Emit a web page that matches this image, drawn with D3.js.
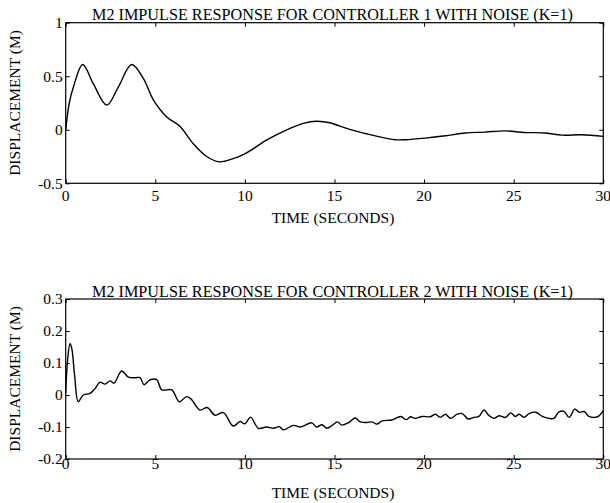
<!DOCTYPE html>
<html>
<head>
<meta charset="utf-8">
<script src="https://cdn.jsdelivr.net/npm/d3@7"></script>
<style>
  body { margin: 0; background: #fff; }
  text { font-family: "Liberation Serif", "Times New Roman", serif; fill: #000; }
</style>
</head>
<body>
<script>
// time axis shared by both panels
const xTicks = [0, 5, 10, 15, 20, 25, 30];

// controller 1 response (smooth)
const t1 = [0, 0.2, 0.43, 0.95, 1.54, 2.29, 2.94, 3.68, 4.33, 4.89, 5.64, 6.38, 7.12, 7.87, 8.57, 9.35, 10.1, 11.2, 12.33, 13.26, 14.0, 14.75, 15.3, 16.15, 17.1, 18.4, 18.95, 20.06, 21.2, 22.3, 23.4, 24.5, 25.6, 26.7, 27.7, 28.8, 30];
const y1 = [0, 0.25, 0.40, 0.61, 0.43, 0.23, 0.40, 0.61, 0.48, 0.28, 0.12, 0.03, -0.13, -0.25, -0.30, -0.27, -0.215, -0.097, 0, 0.06, 0.08, 0.065, 0.034, -0.01, -0.05, -0.093, -0.093, -0.078, -0.056, -0.03, -0.022, -0.01, -0.025, -0.03, -0.05, -0.047, -0.062];
const yTicks1 = [-0.5, 0, 0.5, 1];
const yLabels1 = ["-0.5", "0", "0.5", "1"];

// controller 2 response (noisy)
const t2 = [0, 0.11, 0.24, 0.34, 0.5, 0.7, 0.98, 1.36, 1.64, 1.91, 2.2, 2.47, 2.7, 3.12, 3.5, 3.87, 4.15, 4.37, 4.7, 5.08, 5.36, 5.92, 6.34, 6.75, 7.0, 7.5, 7.9, 8.33, 8.8, 9.35, 9.73, 10.0, 10.32, 10.75, 11.2, 11.6, 11.92, 12.15, 12.7, 13.1, 13.73, 14.0, 14.3, 14.57, 14.85, 15.17, 15.4, 15.8, 16.16, 16.44, 16.8, 17.1, 17.37, 17.65, 18.2, 18.7, 19.0, 19.24, 19.5, 19.9, 20.35, 20.63, 20.9, 21.2, 21.47, 21.85, 22.13, 22.46, 22.78, 23.06, 23.34, 23.6, 23.9, 24.18, 24.55, 24.83, 25.1, 25.3, 25.58, 25.86, 26.23, 26.6, 26.97, 27.25, 27.5, 27.8, 28.1, 28.4, 28.65, 28.94, 29.2, 29.5, 29.76, 30];
const y2 = [0.005, 0.112, 0.16, 0.145, 0.06, -0.021, 0.0, 0.005, 0.02, 0.04, 0.034, 0.044, 0.037, 0.075, 0.056, 0.054, 0.054, 0.032, 0.047, 0.048, 0.016, 0.016, -0.021, -0.005, -0.013, -0.047, -0.039, -0.063, -0.055, -0.097, -0.083, -0.09, -0.069, -0.104, -0.1, -0.104, -0.099, -0.109, -0.095, -0.1, -0.087, -0.1, -0.093, -0.104, -0.096, -0.084, -0.094, -0.086, -0.072, -0.084, -0.086, -0.084, -0.091, -0.081, -0.078, -0.067, -0.077, -0.068, -0.073, -0.067, -0.068, -0.06, -0.07, -0.06, -0.073, -0.06, -0.058, -0.075, -0.07, -0.067, -0.047, -0.063, -0.073, -0.065, -0.07, -0.056, -0.067, -0.06, -0.07, -0.058, -0.054, -0.067, -0.073, -0.073, -0.054, -0.051, -0.07, -0.044, -0.054, -0.052, -0.067, -0.07, -0.065, -0.049];
const yTicks2 = [-0.2, -0.1, 0, 0.1, 0.2, 0.3];
const yLabels2 = ["-0.2", "-0.1", "0", "0.1", "0.2", "0.3"];

const W = 610, H = 503;
const fs = 15.5;
const svg = d3.select("body").append("svg").attr("width", W).attr("height", H);

function panel({ top, bottom, ts, ys, yTicks, yLabels, title, tickGap, labelGap }) {
  const left = 65.7, right = 603.3;
  const x = d3.scaleLinear().domain([0, 30]).range([left, right]);
  const y = d3.scaleLinear().domain(d3.extent(yTicks)).range([bottom, top]);
  const g = svg.append("g");
  const tl = 4;

  // inward ticks on all sides
  g.append("g").attr("transform", `translate(0,${bottom})`)
    .call(d3.axisTop(x).tickValues(xTicks).tickSize(tl).tickFormat(""))
    .call(a => a.select(".domain").remove());
  g.append("g").attr("transform", `translate(0,${top})`)
    .call(d3.axisBottom(x).tickValues(xTicks).tickSize(tl).tickFormat(""))
    .call(a => a.select(".domain").remove());
  g.append("g").attr("transform", `translate(${left},0)`)
    .call(d3.axisRight(y).tickValues(yTicks).tickSize(tl).tickFormat(""))
    .call(a => a.select(".domain").remove());
  g.append("g").attr("transform", `translate(${right},0)`)
    .call(d3.axisLeft(y).tickValues(yTicks).tickSize(tl).tickFormat(""))
    .call(a => a.select(".domain").remove());
  g.selectAll(".tick line").attr("stroke", "#000");

  g.append("rect")
    .attr("x", left).attr("y", top)
    .attr("width", right - left).attr("height", bottom - top)
    .attr("fill", "none").attr("stroke", "#000").attr("stroke-width", 1.2);

  // tick labels
  g.selectAll(".xl").data(xTicks).join("text")
    .attr("x", d => x(d)).attr("y", bottom + tickGap)
    .attr("text-anchor", "middle").attr("font-size", fs)
    .text(d => d);
  g.selectAll(".yl").data(yTicks).join("text")
    .attr("x", left - 3).attr("y", d => y(d)).attr("dy", "0.35em")
    .attr("text-anchor", "end").attr("font-size", fs)
    .text((d, i) => yLabels[i]);

  g.append("text")
    .attr("x", 332.5).attr("y", top - 2.5)
    .attr("text-anchor", "middle").attr("font-size", 16.2)
    .text(title);
  g.append("text")
    .attr("x", 333).attr("y", bottom + labelGap)
    .attr("text-anchor", "middle").attr("font-size", fs)
    .text("TIME (SECONDS)");
  g.append("text")
    .attr("transform", `translate(20,${(top + bottom) / 2}) rotate(-90)`)
    .attr("text-anchor", "middle").attr("font-size", fs)
    .text("DISPLACEMENT (M)");

  const line = d3.line().x((d, i) => x(ts[i])).y(d => y(d)).curve(d3.curveCatmullRom);
  g.append("path").datum(ys)
    .attr("d", line)
    .attr("fill", "none").attr("stroke", "#000").attr("stroke-width", 1.4);
}

panel({
  top: 22.7, bottom: 183.3, ts: t1, ys: y1, yTicks: yTicks1, yLabels: yLabels1,
  title: "M2 IMPULSE RESPONSE FOR CONTROLLER 1 WITH NOISE (K=1)",
  tickGap: 18, labelGap: 40
});
panel({
  top: 299, bottom: 459, ts: t2, ys: y2, yTicks: yTicks2, yLabels: yLabels2,
  title: "M2 IMPULSE RESPONSE FOR CONTROLLER 2 WITH NOISE (K=1)",
  tickGap: 10, labelGap: 39
});
</script>
</body>
</html>
